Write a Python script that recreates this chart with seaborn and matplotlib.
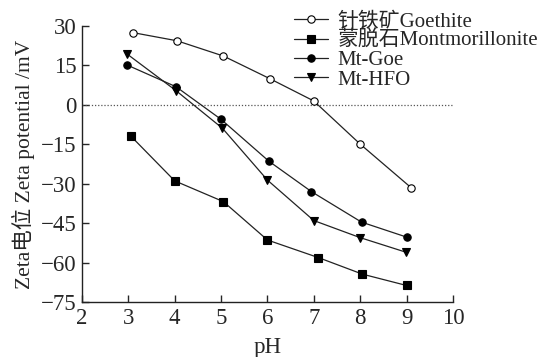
import numpy as np
import pandas as pd
import matplotlib
matplotlib.use("Agg")
import matplotlib.pyplot as plt
import seaborn as sns

# values
ph_goethite = [3.1, 4.05, 5.05, 6.05, 7.0, 8.0, 9.1]
zeta_goethite = [27.5, 24.4, 18.6, 10.0, 1.5, -14.9, -31.5]

ph_mont = [3.05, 4.0, 5.05, 6.0, 7.1, 8.05, 9.0]
zeta_mont = [-11.8, -28.9, -36.8, -51.4, -58.1, -64.4, -68.7]

ph_mtgoe = [2.97, 4.03, 5.0, 6.03, 6.95, 8.03, 9.02]
zeta_mtgoe = [15.2, 6.9, -5.5, -21.4, -33.0, -44.6, -50.4]

ph_mthfo = [2.97, 4.03, 5.03, 6.0, 7.0, 8.0, 8.98]
zeta_mthfo = [19.4, 5.4, -8.9, -28.6, -44.0, -50.5, -56.0]

series_names = ["针铁矿Goethite", "蒙脱石Montmorillonite", "Mt-Goe", "Mt-HFO"]
x_ticks = [2, 3, 4, 5, 6, 7, 8, 9, 10]
y_ticks = [-75, -60, -45, -30, -15, 0, 15, 30]

sns.set_style("ticks")
plt.rcParams['font.family'] = ['Liberation Serif', 'Noto Sans CJK SC']
plt.rcParams['font.size'] = 16.5

df = pd.concat([
    pd.DataFrame({"pH": ph_goethite, "zeta": zeta_goethite, "s": series_names[0]}),
    pd.DataFrame({"pH": ph_mont, "zeta": zeta_mont, "s": series_names[1]}),
    pd.DataFrame({"pH": ph_mtgoe, "zeta": zeta_mtgoe, "s": series_names[2]}),
    pd.DataFrame({"pH": ph_mthfo, "zeta": zeta_mthfo, "s": series_names[3]}),
])

fig = plt.figure(figsize=(5.43, 3.57), dpi=100)
ax = fig.add_axes([0.151, 0.154, 0.683, 0.773])

ax.axhline(0, color="#555555", lw=0.9, ls=(0, (1, 1.5)), zorder=1)

markers = {series_names[0]: "o", series_names[1]: "s",
           series_names[2]: "o", series_names[3]: "v"}
for name in series_names:
    sub = df[df["s"] == name]
    face = "white" if name == series_names[0] else "black"
    sns.lineplot(data=sub, x="pH", y="zeta", ax=ax, color="#222222", lw=0.9,
                 marker=markers[name], markersize=5.3, markerfacecolor=face,
                 markeredgecolor="black", markeredgewidth=0.8,
                 label=name, sort=False, zorder=3)

ax.set_xlim(2, 10)
ax.set_ylim(-75, 30)
ax.set_xticks(x_ticks)
ax.set_yticks(y_ticks)
ax.set_yticklabels([str(v).replace("-", "\u2212") for v in y_ticks])
ax.tick_params(direction="in", length=5, width=1, pad=4)
for sp in ["top", "right"]:
    ax.spines[sp].set_visible(False)
for sp in ["left", "bottom"]:
    ax.spines[sp].set_linewidth(1)
    ax.spines[sp].set_color("#222222")

ax.set_xlabel("pH", labelpad=6)
ax.set_ylabel("Zeta电位 Zeta potential /mV", labelpad=4, fontsize=15.5)

ax.legend(loc="upper left", bbox_to_anchor=(0.535, 0.975), bbox_transform=fig.transFigure,
          frameon=False, fontsize=15, labelspacing=-0.02, handlelength=1.65,
          handletextpad=0.45, borderaxespad=0, borderpad=0.15)

fig.savefig("out.png", dpi=100)
